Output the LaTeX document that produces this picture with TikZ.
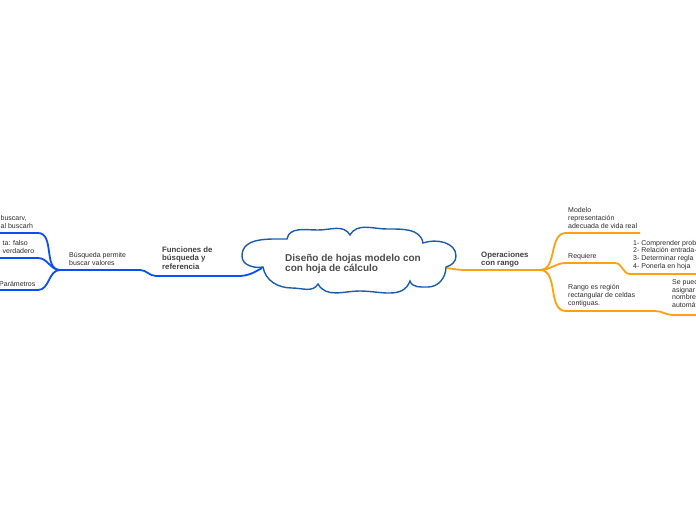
\documentclass[tikz,border=0pt]{standalone}
\usepackage{fontspec}
\setmainfont{Liberation Sans}
\usepackage{xcolor}

\definecolor{mapblue}{HTML}{0A4FF5}
\definecolor{maporange}{HTML}{FFA010}
\definecolor{cloudblue}{HTML}{1A5EAB}
\definecolor{txtgray}{HTML}{2B2B2B}

\begin{document}
\begin{tikzpicture}[x=1pt, y=-1pt,
    topic/.style={anchor=base west, align=left, inner sep=0pt, text=txtgray!85, font=\fontsize{10}{10.8}\selectfont\bfseries},
    main/.style={anchor=base west, align=left, inner sep=0pt, text=txtgray!90, font=\fontsize{7.8}{8.8}\selectfont\bfseries},
    sub/.style={anchor=base west, align=left, inner sep=0pt, text=txtgray, font=\fontsize{7}{8.3}\selectfont},
    bline/.style={draw=mapblue, line width=1.8pt},
    oline/.style={draw=maporange, line width=1.8pt},
    cloudline/.style={draw=cloudblue, line width=1.4pt, fill=white}
  ]
    \useasboundingbox (0,0) rectangle (696,520);
    \clip (0,0) rectangle (696,520);

    % left side
    \coordinate (lroot) at (262,268);
    \coordinate (fun-r) at (238,276);
    \coordinate (fun-l) at (156,276);
    \coordinate (bus-r) at (140,270);
    \coordinate (bus-l) at (60,270);
    \coordinate (bv-r) at (38,233);  \coordinate (bv-l) at (0,233);
    \coordinate (vf-r) at (38,258);  \coordinate (vf-l) at (0,258);
    \coordinate (par-r) at (38,290); \coordinate (par-l) at (0,290);

    \draw[bline] (lroot) to[out=210,in=0] (fun-r) -- (fun-l) to[out=180,in=0] (bus-r) -- (bus-l);
    \draw[bline] (bus-l) to[out=180,in=0] (bv-r) -- (bv-l);
    \draw[bline] (bus-l) to[out=180,in=0] (vf-r) -- (vf-l);
    \draw[bline] (bus-l) to[out=180,in=0] (par-r) -- (par-l);

    % right side
    \coordinate (rroot) at (447,268);
    \coordinate (op-l) at (468,270);
    \coordinate (op-r) at (540,270);
    \coordinate (mod-l) at (566,233); \coordinate (mod-r) at (640,233);
    \coordinate (req-l) at (566,263); \coordinate (req-r) at (615,263);
    \coordinate (pas-l) at (630,274); \coordinate (pas-r) at (696,274);
    \coordinate (ran-l) at (566,311); \coordinate (ran-r) at (655,311);
    \coordinate (nom-l) at (673,315); \coordinate (nom-r) at (696,315);

    \draw[oline] (rroot) to[out=-10,in=180] (op-l) -- (op-r);
    \draw[oline] (op-r) to[out=0,in=180] (mod-l) -- (mod-r);
    \draw[oline] (op-r) to[out=0,in=180] (req-l) -- (req-r) to[out=0,in=180] (pas-l) -- (pas-r);
    \draw[oline] (op-r) to[out=0,in=180] (ran-l) -- (ran-r) to[out=0,in=180] (nom-l) -- (nom-r);

    % central cloud
    \draw[cloudline] (263,267) to[out=-80,in=180] (292,288) to[out=0,in=-120] (318,284)
      to[out=-60,in=180] (360,291) to[out=0,in=-110] (410,281)
      to[out=-70,in=180] (428,287) to[out=0,in=-90] (446,267)
      to[out=15,in=-90] (456,256) to[out=90,in=20] (423,243)
      to[out=100,in=0] (387,229) to[out=180,in=60] (350,235)
      to[out=120,in=0] (318,230) to[out=180,in=80] (287,239)
      to[out=180,in=90] (242,256) to[out=-90,in=190] cycle;
    \node[topic] (topic) at (285,271.8) {Diseño de hojas modelo con\\con hoja de cálculo};

    % labels
    \node[main] (fun) at (162,269.6) {Funciones de\\búsqueda y\\referencia};
    \node[sub] (bus) at (69,265.3) {Búsqueda permite\\buscar valores};
    \node[sub] (bv) at (0.5,228.3) {buscarv,\\al buscarh};
    \node[sub] (vf) at (2.5,253.3) {ta: falso\\verdadero};
    \node[sub] (par) at (-1,286) {Parámetros};

    \node[main] (op) at (481,265.8) {Operaciones\\con rango};
    \node[sub] (mod) at (568,228.6) {Modelo\\representación\\adecuada de vida real};
    \node[sub] (req) at (568,258) {Requiere};
    \node[sub, font=\fontsize{7}{7.7}\selectfont] (pas) at (633,268.1) {1- Comprender prob\\2- Relación entrada-\\3- Determinar regla\\4- Ponerla en hoja};
    \node[sub] (ran) at (568,305.9) {Rango es región\\rectangular de celdas\\contiguas.};
    \node[sub, font=\fontsize{7}{7.7}\selectfont] (nom) at (672,307.4) {Se pued\\asignar\\nombre\\automát};
  \end{tikzpicture}
\end{document}
